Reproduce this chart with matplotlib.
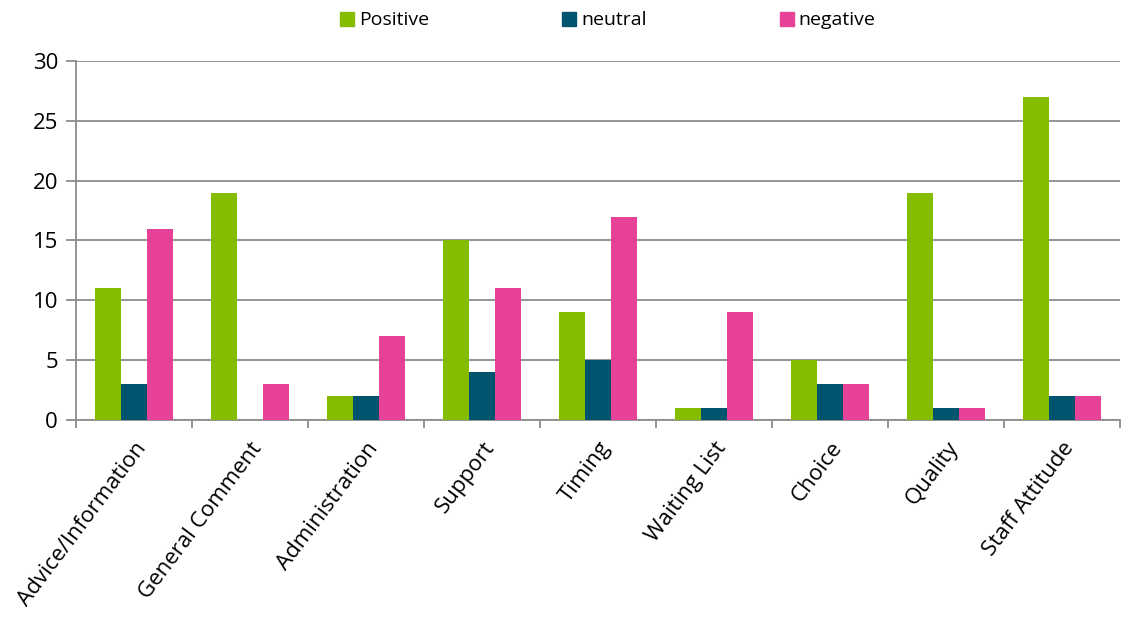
import numpy as np
import matplotlib.pyplot as plt
from matplotlib.patches import Patch

plt.rcParams['font.family'] = ['Open Sans', 'DejaVu Sans']

categories = ["Advice/Information", "General Comment", "Administration", "Support",
              "Timing", "Waiting List", "Choice", "Quality", "Staff Attitude"]
positive = [11, 19, 2, 15, 9, 1, 5, 19, 27]
neutral = [3, 0, 2, 4, 5, 1, 3, 1, 2]
negative = [16, 3, 7, 11, 17, 9, 3, 1, 2]

series_names = ["Positive", "neutral", "negative"]
colors = ["#86BC00", "#00546E", "#E84298"]

fig = plt.figure(figsize=(11.23, 6.19), dpi=100)
ax = fig.add_axes([76 / 1123, 1 - 420 / 619, (1120 - 76) / 1123, (420 - 61) / 619])

x = np.arange(len(categories))
w = 0.224
for i, (vals, c) in enumerate(zip([positive, neutral, negative], colors)):
    ax.bar(x + (i - 1) * w, vals, width=w, color=c, zorder=3)

ax.set_xlim(-0.5, len(categories) - 0.5)
ax.set_ylim(0, 30)
ax.set_yticks(range(0, 31, 5))
ax.yaxis.grid(True, color="#8c8c8c", linewidth=1.3, zorder=0)

# tick marks sit at category boundaries, labels at the centres
ax.set_xticks(np.arange(-0.5, len(categories), 1))
ax.set_xticklabels([])
ax.set_xticks(x, minor=True)
ax.set_xticklabels(categories, minor=True, rotation=53, ha="right", va="top",
                   rotation_mode="anchor", fontsize=16)
ax.tick_params(axis="x", which="minor", length=0, pad=13)
ax.tick_params(axis="x", which="major", length=6, color="#8c8c8c", width=1.3)
ax.tick_params(axis="y", length=7, color="#8c8c8c", width=1.3, labelsize=16, pad=6)

for s in ["top", "right"]:
    ax.spines[s].set_visible(False)
for s in ["left", "bottom"]:
    ax.spines[s].set_color("#8c8c8c")
    ax.spines[s].set_linewidth(1.3)

handles = [Patch(color=c, label=n) for c, n in zip(colors, series_names)]
fig.legend(handles=handles, loc="center left", bbox_to_anchor=(340 / 1123, 0.967), ncol=3,
           frameon=False, fontsize=14, handlelength=0.72, handleheight=0.72,
           handletextpad=0.25, columnspacing=6.85, borderpad=0, borderaxespad=0)

fig.savefig("out.png", dpi=100)
